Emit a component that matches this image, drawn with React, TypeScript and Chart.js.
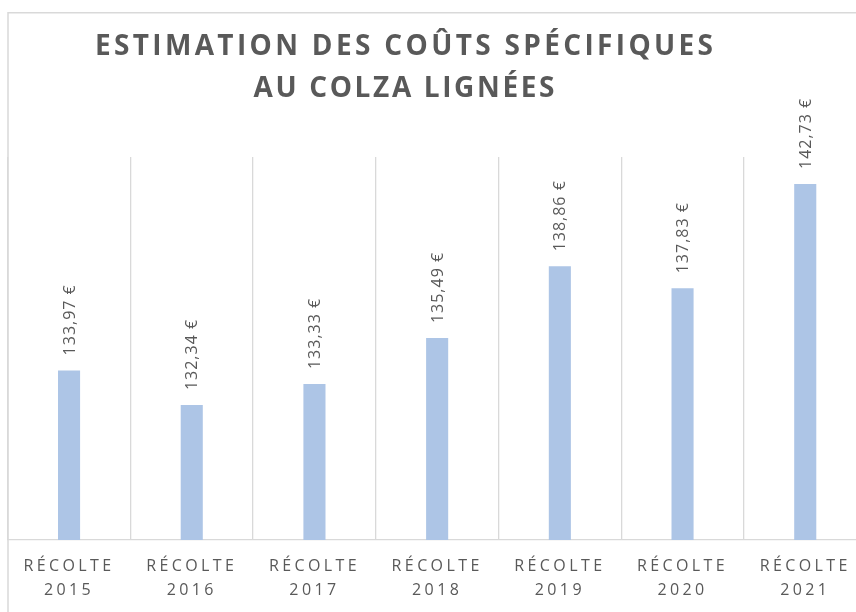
import React, { useEffect, useRef } from "react";
import { Chart, registerables } from "chart.js";

Chart.register(...registerables);

// ---- data ----
const harvestWord = "RÉCOLTE";
const years = ["2015", "2016", "2017", "2018", "2019", "2020", "2021"];
const costs = [133.97, 132.34, 133.33, 135.49, 138.86, 137.83, 142.73];
const titleLines = ["ESTIMATION DES COÛTS SPÉCIFIQUES", "AU COLZA LIGNÉES"];
const yMin = 126;
const yMax = 144;

// ---- style ----
const TEXT = "#595959";
const GRID = "#d9d9d9";
const BAR = "#adc5e6";
const FONT = "'Open Sans', 'DejaVu Sans', sans-serif";

const fmt = (v: number) => v.toFixed(2).replace(".", ",") + " €";

const decorPlugin = {
  id: "decor",
  beforeDraw(chart: any) {
    const ctx = chart.ctx;
    ctx.save();
    ctx.strokeStyle = GRID;
    ctx.lineWidth = 1.5;
    ctx.beginPath();
    ctx.moveTo(8, chart.height + 5);
    ctx.lineTo(8, 12.75);
    ctx.lineTo(chart.width + 5, 12.75);
    ctx.stroke();
    ctx.restore();
    // letter spacing for axis tick labels
    ctx.letterSpacing = "3.4px";
  },
  afterDatasetsDraw(chart: any) {
    const ctx = chart.ctx;
    const meta = chart.getDatasetMeta(0);
    ctx.save();
    ctx.letterSpacing = "1px";
    ctx.font = `16px ${FONT}`;
    ctx.fillStyle = TEXT;
    ctx.textAlign = "left";
    ctx.textBaseline = "middle";
    meta.data.forEach((el: any, i: number) => {
      ctx.save();
      ctx.translate(el.x + 1, el.y - 15);
      ctx.rotate(-Math.PI / 2);
      ctx.fillText(fmt(costs[i]), 0, 0);
      ctx.restore();
    });
    ctx.restore();
  },
  afterDraw(chart: any) {
    const ctx = chart.ctx;
    ctx.letterSpacing = "0px";
    ctx.save();
    ctx.font = `bold 28px ${FONT}`;
    ctx.fillStyle = TEXT;
    ctx.textAlign = "left";
    ctx.textBaseline = "alphabetic";
    const targets = [618, 301];
    const baselines = [55, 96.5];
    const cx = 404;
    titleLines.forEach((line, i) => {
      ctx.letterSpacing = "0px";
      const w = ctx.measureText(line).width;
      const s = (targets[i] - w) / (line.length - 1);
      ctx.letterSpacing = `${s}px`;
      ctx.fillText(line, cx - targets[i] / 2, baselines[i]);
    });
    ctx.restore();
    ctx.letterSpacing = "0px";
  },
};

export default function App() {
  const ref = useRef<HTMLCanvasElement | null>(null);
  useEffect(() => {
    if (!ref.current) return;
    const chart = new Chart(ref.current, {
      type: "bar",
      data: {
        labels: years.map((y) => [harvestWord, y]),
        datasets: [
          {
            data: costs,
            backgroundColor: BAR,
            barPercentage: 0.18,
            categoryPercentage: 1,
          },
        ],
      },
      options: {
        animation: false,
        responsive: false,
        devicePixelRatio: 1,
        layout: { padding: { left: 7.7, right: 3.4, top: 157, bottom: 0 } },
        plugins: {
          legend: { display: false },
          title: { display: false },
          tooltip: { enabled: false },
        },
        scales: {
          x: {
            grid: { color: GRID, lineWidth: 1.3, drawTicks: false, offset: true },
            border: { color: GRID, width: 1.3 },
            ticks: {
              color: TEXT,
              font: { family: FONT, size: 16, lineHeight: 1.5 },
              padding: 14,
              maxRotation: 0,
              autoSkip: false,
            },
            afterFit: (s: any) => {
              s.height = 72;
            },
          },
          y: {
            display: false,
            min: yMin,
            max: yMax,
          },
        },
      },
      plugins: [decorPlugin],
    });
    return () => chart.destroy();
  }, []);
  return (
    <div
      style={{
        position: "fixed",
        left: 0,
        top: 0,
        width: 856,
        height: 612,
        overflow: "hidden",
        background: "#fff",
      }}
    >
      <canvas ref={ref} width={870} height={612} style={{ position: "absolute", left: 0, top: 0 }} />
    </div>
  );
}
